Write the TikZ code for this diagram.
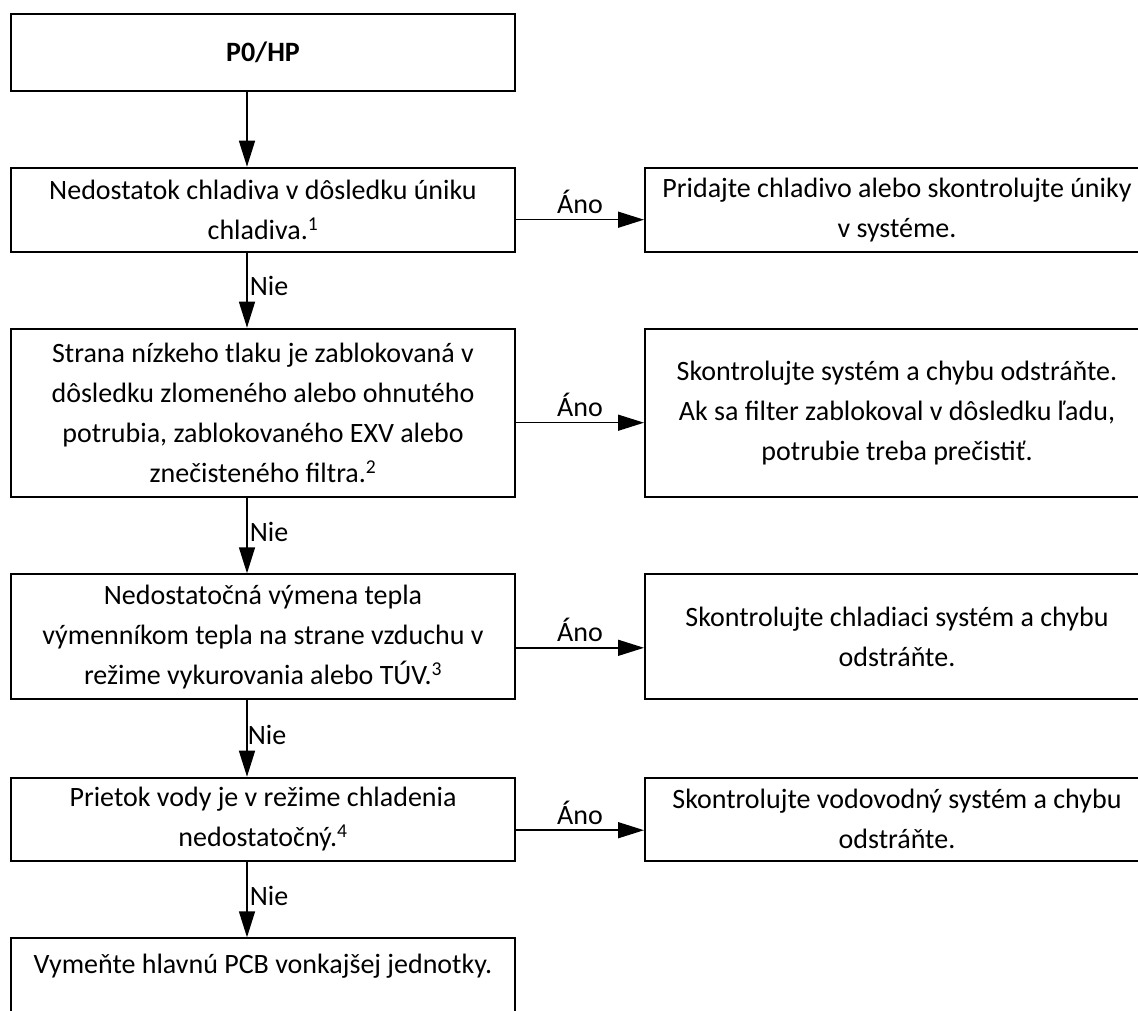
\documentclass[tikz,border=0pt]{standalone}
\usepackage{fontspec}
\setmainfont{Carlito}
\usetikzlibrary{arrows.meta}
\begin{document}
\begin{tikzpicture}[x=1pt,y=-1pt,
  box/.style={draw,line width=2pt,inner sep=0pt,minimum width=504pt,align=center,
    font=\fontsize{28}{40}\selectfont,anchor=north west},
  arr/.style={line width=1.5pt,-{Triangle[length=26pt,width=16pt]}},
  lbl/.style={font=\fontsize{28}{30}\selectfont,inner sep=2pt}]
\clip (0,0) rectangle (1138,1010);
\fill[white] (0,0) rectangle (1138,1010);
% left column
\node[box,minimum height=77pt] (p0) at (10,12.7) {\textbf{P0/HP}};
\node[box,minimum height=84pt] (b1) at (10,166.7) {Nedostatok chladiva v dôsledku úniku\\chladiva.\textsuperscript{1}};
\node[box,minimum height=168pt] (b2) at (10,327.7) {Strana nízkeho tlaku je zablokovaná v\\dôsledku zlomeného alebo ohnutého\\potrubia, zablokovaného EXV alebo\\znečisteného filtra.\textsuperscript{2}};
\node[box,minimum height=125pt] (b3) at (10,573.3) {Nedostatočná výmena tepla\\výmenníkom tepla na strane vzduchu v\\režime vykurovania alebo TÚV.\textsuperscript{3}};
\node[box,minimum height=83pt] (b4) at (10,776.7) {Prietok vody je v režime chladenia\\nedostatočný.\textsuperscript{4}};
\node[box,text height=19pt,text depth=60pt,inner ysep=16pt] (b5) at (10,937.3) {Vymeňte hlavnú PCB vonkajšej jednotky.};
% right column
\node[box,minimum height=84pt] (r1) at (644,166.7) {Pridajte chladivo alebo skontrolujte úniky\\v systéme.};
\node[box,minimum height=168pt] (r2) at (644,327.7) {Skontrolujte systém a chybu odstráňte.\\Ak sa filter zablokoval v dôsledku ľadu,\\potrubie treba prečistiť.};
\node[box,minimum height=125pt] (r3) at (644,573.3) {Skontrolujte chladiaci systém a chybu\\odstráňte.};
\node[box,minimum height=83pt] (r4) at (644,776.7) {Skontrolujte vodovodný systém a chybu\\odstráňte.};
% connectors
\coordinate (ax) at (247,0);
\draw[arr] (p0.south -| ax) -- (b1.north -| ax);
\draw[arr] (b1.south -| ax) -- node[lbl,anchor=west,pos=0.45]{Nie} (b2.north -| ax);
\draw[arr] (b2.south -| ax) -- node[lbl,anchor=west,pos=0.45]{Nie} (b3.north -| ax);
\draw[arr] (b3.south -| ax) -- node[lbl,anchor=west,pos=0.45,xshift=-2pt]{Nie} (b4.north -| ax);
\draw[arr] (b4.south -| ax) -- node[lbl,anchor=west,pos=0.45]{Nie} (b5.north -| ax);
\draw[arr] ([yshift=-10pt]b1.east) -- ([yshift=-10pt]b1.east -| r1.west) node[lbl,midway,above=3pt]{Áno};
\draw[arr] ([yshift=-10pt]b2.east) -- ([yshift=-10pt]b2.east -| r2.west) node[lbl,midway,above=3pt]{Áno};
\draw[arr] ([yshift=-11pt]b3.east) -- ([yshift=-11pt]b3.east -| r3.west) node[lbl,midway,above=3pt]{Áno};
\draw[arr] ([yshift=-11pt]b4.east) -- ([yshift=-11pt]b4.east -| r4.west) node[lbl,midway,above=3pt]{Áno};
\end{tikzpicture}
\end{document}
